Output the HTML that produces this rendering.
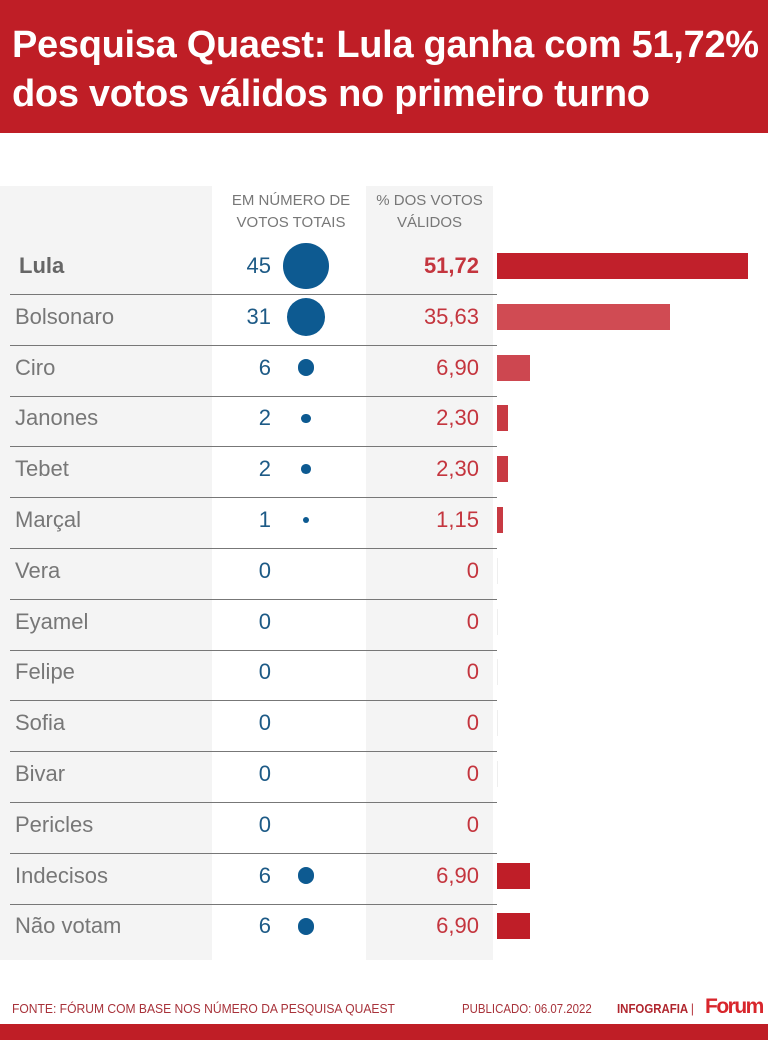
<!DOCTYPE html>
<html><head><meta charset="utf-8"><style>
body{margin:0;width:768px;height:1046px;background:#fff;position:relative;overflow:hidden;font-family:"Liberation Sans",sans-serif}
.hdr{position:absolute;left:0;top:0;width:768px;height:133px;background:#bf1e26}
.hdr div{position:absolute;left:12px;color:#fff;font-weight:bold;font-size:38px;letter-spacing:-0.3px;white-space:nowrap}
.g{position:absolute;background:#f4f4f4}
.ab{position:absolute;white-space:nowrap}
.name{position:absolute;left:15px;font-size:22px;color:#777}
.num{position:absolute;width:271px;left:0;text-align:right;font-size:22px;color:#1d5a86}
.pct{position:absolute;width:479px;left:0;text-align:right;font-size:22px;color:#c4353e}
.line{position:absolute;left:10px;width:487px;height:1px;background:#777}
.dot{position:absolute;border-radius:50%;background:#0d5a91}
.bar{position:absolute;left:497px;height:26px}
.th{position:absolute;font-size:15px;color:#777;text-align:center;line-height:22px}
</style></head><body>
<div class="hdr"><div style="top:24px">Pesquisa Quaest: Lula ganha com 51,72%</div><div style="top:73px">dos votos válidos no primeiro turno</div></div>
<div class="g" style="left:0;top:186px;width:212px;height:774px"></div>
<div class="g" style="left:366px;top:186px;width:127px;height:774px"></div>
<div class="th" style="left:222px;top:190px;width:138px">EM NÚMERO DE<br>VOTOS TOTAIS</div>
<div class="th" style="left:366px;top:190px;width:127px">% DOS VOTOS<br>VÁLIDOS</div>
<div id="rows"></div>
<div class="ab" style="left:12px;top:1001px;font-size:13px;color:#a8323a;transform:scaleX(0.93);transform-origin:0 0">FONTE: FÓRUM COM BASE NOS NÚMERO DA PESQUISA QUAEST</div>
<div class="ab" style="left:462px;top:1001px;font-size:13px;color:#a8323a;transform:scaleX(0.88);transform-origin:0 0">PUBLICADO: 06.07.2022</div>
<div class="ab" style="left:617px;top:1001px;font-size:13px;color:#b0262e;font-weight:bold;transform:scaleX(0.88);transform-origin:0 0">INFOGRAFIA <span style="font-weight:normal">|</span></div>
<div class="ab" style="left:705px;top:995px;font-size:21px;color:#d8262c;font-weight:bold;letter-spacing:-1.5px">Forum</div>
<div class="ab" style="left:0;top:1024px;width:768px;height:16px;background:#bf1e26"></div>
<script>
var d=[["Lula",45,"51,72",51.72,"#c1202b",1],["Bolsonaro",31,"35,63",35.63,"#d04b53"],["Ciro",6,"6,90",6.9,"#cd4750"],["Janones",2,"2,30",2.3,"#c83a43"],["Tebet",2,"2,30",2.3,"#c83a43"],["Marçal",1,"1,15",1.15,"#c83a43"],["Vera",0,"0",0],["Eyamel",0,"0",0],["Felipe",0,"0",0],["Sofia",0,"0",0],["Bivar",0,"0",0],["Pericles",0,"0",0],["Indecisos",6,"6,90",6.9,"#bf1e28"],["Não votam",6,"6,90",6.9,"#bf1e28"]];
var h="";
d.forEach(function(r,i){var c=266+i*50.8;
h+='<div class="name" style="top:'+(c-13)+'px;'+(r[5]?'font-weight:bold;left:19px;color:#666':'')+'">'+r[0]+'</div>';
h+='<div class="num" style="top:'+(c-13)+'px">'+r[1]+'</div>';
h+='<div class="pct" style="top:'+(c-13)+'px;'+(r[5]?'font-weight:bold':'')+'">'+r[2]+'</div>';
if(r[1]>0){var rr=3.4*Math.sqrt(r[1]);h+='<div class="dot" style="left:'+(306-rr)+'px;top:'+(c-rr)+'px;width:'+2*rr+'px;height:'+2*rr+'px"></div>';}
if(r[3]>0)h+='<div class="bar" style="top:'+(c-13)+'px;width:'+(r[3]*4.85)+'px;background:'+r[4]+'"></div>';
else if(i<11)h+='<div class="bar" style="top:'+(c-13)+'px;width:1px;background:#eee"></div>';
if(i<13)h+='<div class="line" style="top:'+Math.round(c+28)+'px"></div>';});
document.getElementById("rows").innerHTML=h;
</script>
</body></html>
